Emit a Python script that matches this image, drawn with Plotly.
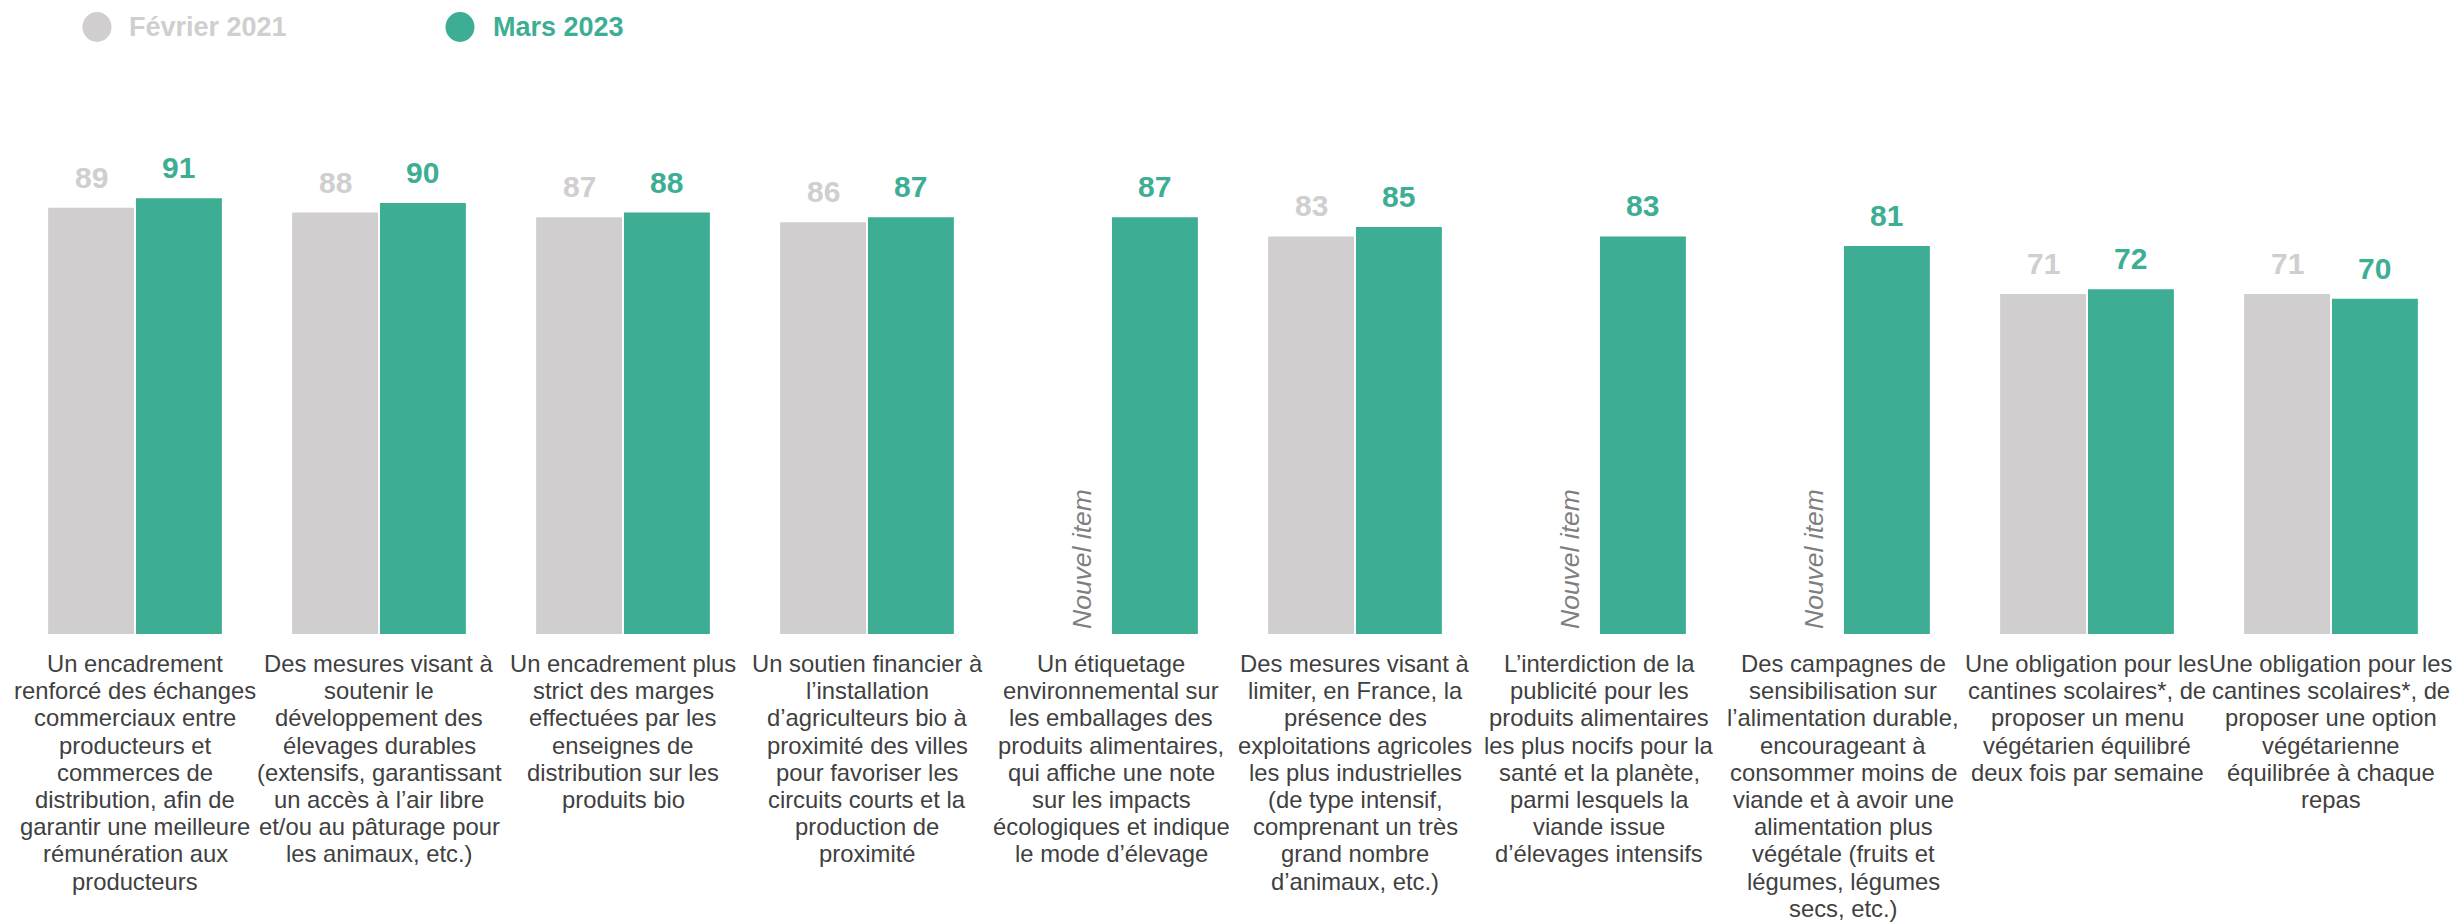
import plotly.graph_objects as go

# Survey items (line breaks mark the wrapping under each group)
categories = [
    "Un encadrement<br>renforcé des échanges<br>commerciaux entre<br>producteurs et<br>commerces de<br>distribution, afin de<br>garantir une meilleure<br>rémunération aux<br>producteurs",
    "Des mesures visant à<br>soutenir le<br>développement des<br>élevages durables<br>(extensifs, garantissant<br>un accès à l’air libre<br>et/ou au pâturage pour<br>les animaux, etc.)",
    "Un encadrement plus<br>strict des marges<br>effectuées par les<br>enseignes de<br>distribution sur les<br>produits bio",
    "Un soutien financier à<br>l’installation<br>d’agriculteurs bio à<br>proximité des villes<br>pour favoriser les<br>circuits courts et la<br>production de<br>proximité",
    "Un étiquetage<br>environnemental sur<br>les emballages des<br>produits alimentaires,<br>qui affiche une note<br>sur les impacts<br>écologiques et indique<br>le mode d’élevage",
    "Des mesures visant à<br>limiter, en France, la<br>présence des<br>exploitations agricoles<br>les plus industrielles<br>(de type intensif,<br>comprenant un très<br>grand nombre<br>d’animaux, etc.)",
    "L’interdiction de la<br>publicité pour les<br>produits alimentaires<br>les plus nocifs pour la<br>santé et la planète,<br>parmi lesquels la<br>viande issue<br>d’élevages intensifs",
    "Des campagnes de<br>sensibilisation sur<br>l’alimentation durable,<br>encourageant à<br>consommer moins de<br>viande et à avoir une<br>alimentation plus<br>végétale (fruits et<br>légumes, légumes<br>secs, etc.)",
    "Une obligation pour les<br>cantines scolaires*, de<br>proposer un menu<br>végétarien équilibré<br>deux fois par semaine",
    "Une obligation pour les<br>cantines scolaires*, de<br>proposer une option<br>végétarienne<br>équilibrée à chaque<br>repas",
]

fevrier_2021 = [89, 88, 87, 86, None, 83, None, None, 71, 71]
mars_2023 = [91, 90, 88, 87, 87, 85, 83, 81, 72, 70]

series_names = ["Février 2021", "Mars 2023"]
new_item_label = "Nouvel item"

GREY = "#D0CECF"
GREEN = "#3DAE94"
TEXT = "#404040"
FONT = "Arial, Liberation Sans, sans-serif"

x = list(range(len(categories)))

fig = go.Figure()
fig.add_trace(go.Bar(x=x, y=fevrier_2021, name=series_names[0],
                     marker=dict(color=GREY, line=dict(width=0))))
fig.add_trace(go.Bar(x=x, y=mars_2023, name=series_names[1],
                     marker=dict(color=GREEN, line=dict(width=0))))

annotations = []
offset = 0.18
for i, (a, b) in enumerate(zip(fevrier_2021, mars_2023)):
    if a is not None:
        annotations.append(dict(x=i - offset, y=a, text=f"<b>{a}</b>", showarrow=False,
                                xref="x", yref="y", yanchor="bottom", yshift=12,
                                font=dict(family=FONT, size=30, color=GREY)))
    else:
        annotations.append(dict(x=i, y=0, text=f"<i>{new_item_label}</i>", showarrow=False,
                                xref="x", yref="y", yanchor="bottom", xshift=-29, yshift=3,
                                textangle=-90,
                                font=dict(family=FONT, size=26.5, color="#7F7F7F")))
    annotations.append(dict(x=i + offset, y=b, text=f"<b>{b}</b>", showarrow=False,
                            xref="x", yref="y", yanchor="bottom", yshift=12,
                            font=dict(family=FONT, size=30, color=GREEN)))

# Category labels: one text line per annotation, for a tight line pitch
LABEL_SIZE = 23.8
LINE_PITCH = 27.2
for i, label in enumerate(categories):
    for k, line in enumerate(label.split("<br>")):
        annotations.append(dict(x=i, y=0, xref="x", yref="y", text=line, showarrow=False,
                                xanchor="center", yanchor="top",
                                yshift=-14 - k * LINE_PITCH,
                                font=dict(family=FONT, size=LABEL_SIZE, color=TEXT)))

# Legend drawn as circles with coloured bold labels
W, H = 2461, 924
ML, MR, MT, MB = 13, 8, 100, 290
pw, ph = W - ML - MR, H - MT - MB
def px_to_paper(px, py):
    return (px - ML) / pw, (H - MB - py) / ph

shapes = []
for (cx, tx, name, col) in [(97, 127, series_names[0], GREY), (460, 491, series_names[1], GREEN)]:
    xc, yc = px_to_paper(cx, 27)
    shapes.append(dict(type="circle", xref="paper", yref="paper",
                       xsizemode="pixel", ysizemode="pixel", xanchor=xc, yanchor=yc,
                       x0=-14.5, x1=14.5, y0=-15, y1=15,
                       fillcolor=col, line=dict(width=0)))
    xt, yt = px_to_paper(tx, 27)
    annotations.append(dict(x=xt, y=yt, xref="paper", yref="paper", text=f"<b>{name}</b>",
                            showarrow=False, xanchor="left", yanchor="middle",
                            font=dict(family=FONT, size=27, color=col)))

fig.update_layout(
    width=W, height=H,
    margin=dict(l=ML, r=MR, t=MT, b=MB),
    paper_bgcolor="white", plot_bgcolor="white",
    barmode="group", bargap=0.28, bargroupgap=0.022,
    showlegend=False,
    annotations=annotations, shapes=shapes,
    font=dict(family=FONT, color=TEXT),
    xaxis=dict(tickmode="array", tickvals=x, showticklabels=False,
               range=[-0.5, len(categories) - 0.5],
               showgrid=False, zeroline=False, showline=False, ticks=""),
    yaxis=dict(range=[0, 111.5], visible=False, showgrid=False, zeroline=False),
)

fig.write_html("out.html")
